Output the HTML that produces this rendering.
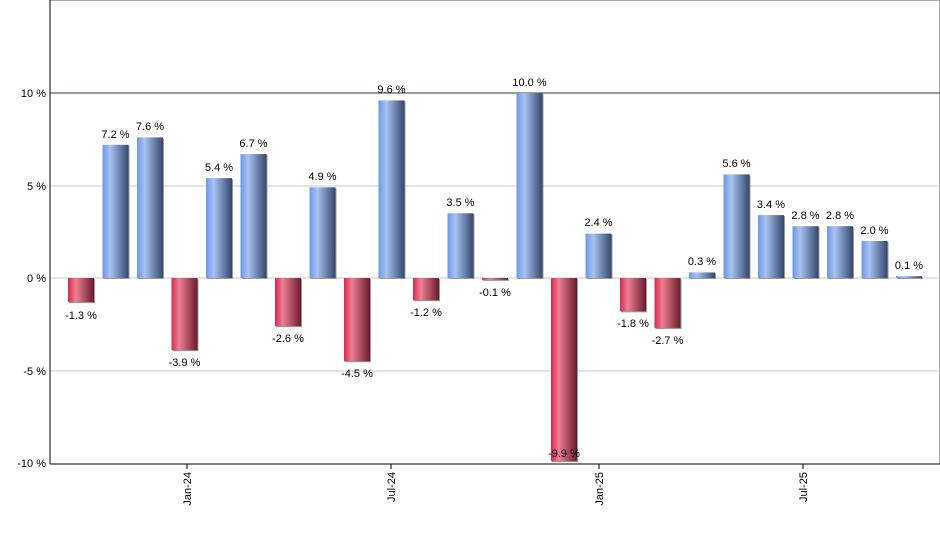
<!DOCTYPE html>
<html><head><style>body{margin:0;background:#fff}svg{display:block;font-family:"Liberation Sans",sans-serif}</style></head>
<body>
<svg width="940" height="550" xmlns="http://www.w3.org/2000/svg">
<defs>
<linearGradient id="b" x1="0" x2="1"><stop offset="0" stop-color="#6f97e6"/><stop offset="0.3" stop-color="#a8c2f2"/><stop offset="1" stop-color="#34466c"/></linearGradient>
<linearGradient id="r" x1="0" x2="1"><stop offset="0" stop-color="#d8284e"/><stop offset="0.3" stop-color="#ee7f94"/><stop offset="1" stop-color="#6a1a2c"/></linearGradient>
</defs>
<line x1="50" y1="0.5" x2="940" y2="0.5" stroke="#aaa"/>
<line x1="939.5" y1="0" x2="939.5" y2="464" stroke="#aaa"/>
<line x1="50" y1="186" x2="940" y2="186" stroke="#c8c8c8"/>
<line x1="50" y1="278" x2="940" y2="278" stroke="#c8c8c8"/>
<line x1="50" y1="371" x2="940" y2="371" stroke="#c8c8c8"/>
<line x1="50" y1="93" x2="940" y2="93" stroke="#1a4d1a"/>
<g font-size="11" text-anchor="end" fill="#000">
<text x="46" y="97">10 %</text><text x="46" y="190">5 %</text><text x="46" y="282">0 %</text><text x="46" y="375">-5 %</text><text x="46" y="467">-10 %</text>
</g>
<g fill="#999">
<rect x="69" y="279" width="26" height="24.05"/>
<rect x="103.5" y="145.8" width="26" height="133.2"/>
<rect x="138" y="138.4" width="26" height="140.6"/>
<rect x="172.5" y="279" width="26" height="72.15"/>
<rect x="207" y="179.1" width="26" height="99.9"/>
<rect x="241.5" y="155.05" width="26" height="123.95"/>
<rect x="276" y="279" width="26" height="48.1"/>
<rect x="310.5" y="188.35" width="26" height="90.65"/>
<rect x="345" y="279" width="26" height="83.25"/>
<rect x="379.5" y="101.4" width="26" height="177.6"/>
<rect x="414" y="279" width="26" height="22.2"/>
<rect x="448.5" y="214.25" width="26" height="64.75"/>
<rect x="483" y="279" width="26" height="1.85"/>
<rect x="517.5" y="94" width="26" height="185"/>
<rect x="552" y="279" width="26" height="183.15"/>
<rect x="586.5" y="234.6" width="26" height="44.4"/>
<rect x="621" y="279" width="26" height="33.3"/>
<rect x="655.5" y="279" width="26" height="49.95"/>
<rect x="690" y="273.45" width="26" height="5.55"/>
<rect x="724.5" y="175.4" width="26" height="103.6"/>
<rect x="759" y="216.1" width="26" height="62.9"/>
<rect x="793.5" y="227.2" width="26" height="51.8"/>
<rect x="828" y="227.2" width="26" height="51.8"/>
<rect x="862.5" y="242" width="26" height="37"/>
<rect x="897" y="277.15" width="26" height="1.85"/>
</g>
<g>
<rect x="68" y="278" width="26" height="24.05" fill="url(#r)"/>
<rect x="102.5" y="144.8" width="26" height="133.2" fill="url(#b)"/>
<rect x="137" y="137.4" width="26" height="140.6" fill="url(#b)"/>
<rect x="171.5" y="278" width="26" height="72.15" fill="url(#r)"/>
<rect x="206" y="178.1" width="26" height="99.9" fill="url(#b)"/>
<rect x="240.5" y="154.05" width="26" height="123.95" fill="url(#b)"/>
<rect x="275" y="278" width="26" height="48.1" fill="url(#r)"/>
<rect x="309.5" y="187.35" width="26" height="90.65" fill="url(#b)"/>
<rect x="344" y="278" width="26" height="83.25" fill="url(#r)"/>
<rect x="378.5" y="100.4" width="26" height="177.6" fill="url(#b)"/>
<rect x="413" y="278" width="26" height="22.2" fill="url(#r)"/>
<rect x="447.5" y="213.25" width="26" height="64.75" fill="url(#b)"/>
<rect x="482" y="278" width="26" height="1.85" fill="url(#r)"/>
<rect x="516.5" y="93" width="26" height="185" fill="url(#b)"/>
<rect x="551" y="278" width="26" height="183.15" fill="url(#r)"/>
<rect x="585.5" y="233.6" width="26" height="44.4" fill="url(#b)"/>
<rect x="620" y="278" width="26" height="33.3" fill="url(#r)"/>
<rect x="654.5" y="278" width="26" height="49.95" fill="url(#r)"/>
<rect x="689" y="272.45" width="26" height="5.55" fill="url(#b)"/>
<rect x="723.5" y="174.4" width="26" height="103.6" fill="url(#b)"/>
<rect x="758" y="215.1" width="26" height="62.9" fill="url(#b)"/>
<rect x="792.5" y="226.2" width="26" height="51.8" fill="url(#b)"/>
<rect x="827" y="226.2" width="26" height="51.8" fill="url(#b)"/>
<rect x="861.5" y="241" width="26" height="37" fill="url(#b)"/>
<rect x="896" y="276.15" width="26" height="1.85" fill="url(#b)"/>
</g>
<g font-size="11" text-anchor="middle" fill="#000">
<text x="81" y="319">-1.3 %</text>
<text x="115.5" y="138">7.2 %</text>
<text x="150" y="130">7.6 %</text>
<text x="184.5" y="366">-3.9 %</text>
<text x="219" y="171">5.4 %</text>
<text x="253.5" y="147">6.7 %</text>
<text x="288" y="342">-2.6 %</text>
<text x="322.5" y="180">4.9 %</text>
<text x="357" y="377">-4.5 %</text>
<text x="391.5" y="93">9.6 %</text>
<text x="426" y="316">-1.2 %</text>
<text x="460.5" y="206">3.5 %</text>
<text x="495" y="296">-0.1 %</text>
<text x="529.5" y="86">10.0 %</text>
<text x="564" y="457">-9.9 %</text>
<text x="598.5" y="226">2.4 %</text>
<text x="633" y="327">-1.8 %</text>
<text x="667.5" y="344">-2.7 %</text>
<text x="702" y="265">0.3 %</text>
<text x="736.5" y="167">5.6 %</text>
<text x="771" y="208">3.4 %</text>
<text x="805.5" y="219">2.8 %</text>
<text x="840" y="219">2.8 %</text>
<text x="874.5" y="234">2.0 %</text>
<text x="909" y="269">0.1 %</text>
</g>
<line x1="50" y1="0" x2="50" y2="464" stroke="#000"/>
<line x1="50" y1="464" x2="940" y2="464" stroke="#000"/>
<g stroke="#000"><line x1="187" y1="464" x2="187" y2="469"/><line x1="391" y1="464" x2="391" y2="469"/><line x1="599" y1="464" x2="599" y2="469"/><line x1="803" y1="464" x2="803" y2="469"/></g>
<g font-size="11" text-anchor="end">
<text transform="translate(191,472) rotate(-90)">Jan-24</text>
<text transform="translate(395,472) rotate(-90)">Jul-24</text>
<text transform="translate(603,472) rotate(-90)">Jan-25</text>
<text transform="translate(807,472) rotate(-90)">Jul-25</text>
</g>
</svg>
</body></html>
